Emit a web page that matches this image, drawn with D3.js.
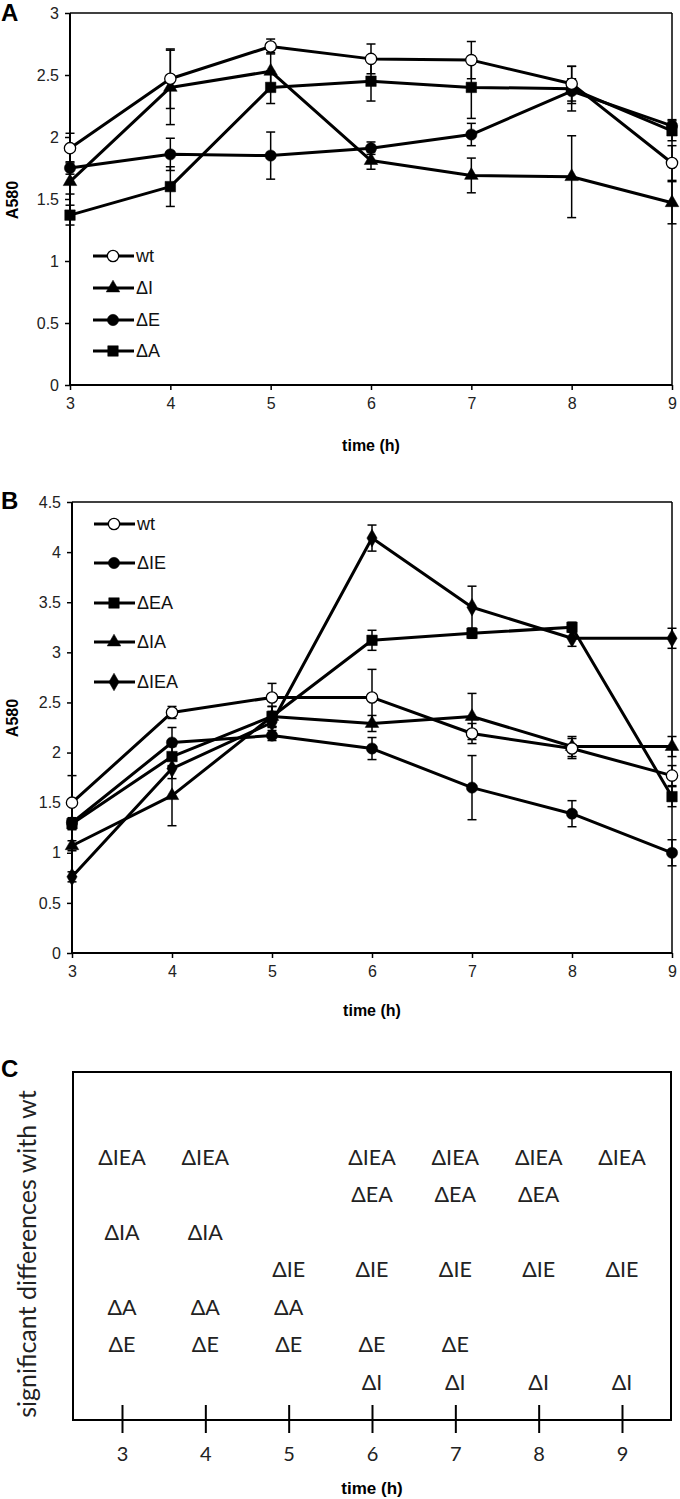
<!DOCTYPE html>
<html><head><meta charset="utf-8">
<script src="https://cdn.jsdelivr.net/npm/d3@7"></script>
<style>
body{margin:0;background:#fff;}
svg{display:block;}
</style></head>
<body>
<svg id="chart" width="680" height="1499"></svg>
<script>
// ---------- DATA ----------
const hours = [3, 4, 5, 6, 7, 8, 9];

// Panel A
const namesA = ["wt", "ΔI", "ΔE", "ΔA"];
const symbolsA = ["openCircle", "triangle", "circle", "square"];
const wtA  = [1.91, 2.47, 2.73, 2.63, 2.62, 2.43, 1.79];
const dIA  = [1.64, 2.40, 2.53, 1.81, 1.69, 1.68, 1.47];
const dEA  = [1.75, 1.86, 1.85, 1.91, 2.02, 2.37, 2.09];
const dAA  = [1.37, 1.60, 2.40, 2.45, 2.40, 2.39, 2.05];
const wtAerr = [0.12, 0.24, 0.06, 0.12, 0.15, 0.14, 0.14];
const dIAerr = [0.10, 0.30, 0.15, 0.07, 0.14, 0.33, 0.17];
const dEAerr = [0.05, 0.13, 0.19, 0.05, 0.09, 0.10, 0.05];
const dAAerr = [0.08, 0.16, 0.13, 0.16, 0.25, 0.18, 0.08];
const yTicksA = [0, 0.5, 1, 1.5, 2, 2.5, 3];

// Panel B
const namesB = ["wt", "ΔIE", "ΔEA", "ΔIA", "ΔIEA"];
const symbolsB = ["openCircle", "circle", "square", "triangle", "diamond"];
const wtB   = [1.50, 2.40, 2.55, 2.55, 2.19, 2.04, 1.77];
const dIEB  = [1.30, 2.10, 2.17, 2.04, 1.65, 1.39, 1.00];
const dEAB  = [1.29, 1.96, 2.36, 3.12, 3.19, 3.25, 1.56];
const dIAB  = [1.07, 1.57, 2.36, 2.29, 2.36, 2.06, 2.06];
const dIEAB = [0.76, 1.84, 2.30, 4.14, 3.45, 3.14, 3.14];
const wtBerr   = [0.27, 0.06, 0.14, 0.28, 0.10, 0.10, 0.10];
const dIEBerr  = [0.05, 0.15, 0.05, 0.11, 0.32, 0.13, 0.13];
const dEABerr  = [0.05, 0.10, 0.10, 0.10, 0.05, 0.05, 0.10];
const dIABerr  = [0.05, 0.30, 0.10, 0.08, 0.23, 0.10, 0.10];
const dIEABerr = [0.05, 0.10, 0.05, 0.13, 0.21, 0.08, 0.10];
const yTicksB = [0, 0.5, 1, 1.5, 2, 2.5, 3, 3.5, 4, 4.5];

// Panel C
const rowsC = ["ΔIEA", "ΔEA", "ΔIA", "ΔIE", "ΔA", "ΔE", "ΔI"];
const sig3 = ["ΔIEA", "ΔIA", "ΔA", "ΔE"];
const sig4 = ["ΔIEA", "ΔIA", "ΔA", "ΔE"];
const sig5 = ["ΔIE", "ΔA", "ΔE"];
const sig6 = ["ΔIEA", "ΔEA", "ΔIE", "ΔE", "ΔI"];
const sig7 = ["ΔIEA", "ΔEA", "ΔIE", "ΔE", "ΔI"];
const sig8 = ["ΔIEA", "ΔEA", "ΔIE", "ΔI"];
const sig9 = ["ΔIEA", "ΔIE", "ΔI"];

// ---------- DRAWING ----------
const svg = d3.select("#chart");
const ARIAL = "'Liberation Sans', Arial, sans-serif";
const NARROW = "'Liberation Sans Narrow', 'Liberation Sans', Arial, sans-serif";
const CAL = "Lato, 'Open Sans', sans-serif";

function symbolPath(kind) {
  const map = {
    openCircle: [d3.symbolCircle, 100],
    circle: [d3.symbolCircle, 100],
    triangle: [d3.symbolTriangle, 80],
    square: [d3.symbolSquare, 110],
    diamond: [d3.symbolDiamond, 90]
  };
  const m = map[kind];
  return d3.symbol().type(m[0]).size(m[1])();
}
function drawMarker(g, kind, x, y) {
  g.append("path").attr("d", symbolPath(kind))
    .attr("transform", `translate(${x},${y})`)
    .attr("fill", kind === "openCircle" ? "#fff" : "#000")
    .attr("stroke", "#000").attr("stroke-width", kind === "openCircle" ? 1.3 : 0.5);
}

function panel(opts) {
  const {x0, x1, yTop, yBot, yMax, yTicks, series, letter, letterY, legendX, legendY, titleY, a580Y} = opts;
  const x = d3.scaleLinear().domain([3, 9]).range([x0, x1]);
  const y = d3.scaleLinear().domain([0, yMax]).range([yBot, yTop]);
  const g = svg.append("g");

  g.append("line").attr("x1", x0).attr("x2", x1).attr("y1", yTop).attr("y2", yTop)
    .attr("stroke", "#000").attr("stroke-width", 1.5);
  g.append("line").attr("x1", x1).attr("x2", x1).attr("y1", yTop).attr("y2", yBot)
    .attr("stroke", "#000").attr("stroke-width", 1.5);

  const ay = g.append("g").attr("transform", `translate(${x0},0)`)
    .call(d3.axisLeft(y).tickValues(yTicks).tickSize(5).tickPadding(6).tickFormat(d3.format("")));
  const ax = g.append("g").attr("transform", `translate(0,${yBot})`)
    .call(d3.axisBottom(x).tickValues(hours).tickSize(5).tickPadding(8).tickFormat(d3.format("d")));
  [ay, ax].forEach(a => {
    a.select(".domain").attr("stroke-width", 2).attr("stroke", "#000");
    a.selectAll(".tick line").attr("stroke-width", 1.5);
    a.selectAll("text").attr("font-family", ARIAL).attr("font-size", 16).attr("fill", "#222");
  });
  ax.select(".domain").attr("d", `M${x0},0H${x1}`);
  ay.select(".domain").attr("d", `M0,${yBot}V${yTop}`);

  series.forEach(s => {
    s.values.forEach((v, i) => {
      const cx = x(hours[i]);
      const e = s.err[i];
      g.append("line").attr("x1", cx).attr("x2", cx).attr("y1", y(v - e)).attr("y2", y(v + e))
        .attr("stroke", "#000").attr("stroke-width", 1.5);
      [v - e, v + e].forEach(val => {
        g.append("line").attr("x1", cx - 4.5).attr("x2", cx + 4.5).attr("y1", y(val)).attr("y2", y(val))
          .attr("stroke", "#000").attr("stroke-width", 1.5);
      });
    });
  });
  const line = d3.line().x((d, i) => x(hours[i])).y(d => y(d));
  series.forEach(s => {
    g.append("path").datum(s.values).attr("d", line)
      .attr("fill", "none").attr("stroke", "#000").attr("stroke-width", 3).attr("stroke-linejoin", "round");
  });
  const order = series.slice().sort((a, b) => (a.symbol === "openCircle") - (b.symbol === "openCircle"));
  order.forEach(s => s.values.forEach((v, i) => drawMarker(g, s.symbol, x(hours[i]), y(v))));

  series.forEach((s, i) => {
    const ly = legendY[i];
    g.append("line").attr("x1", legendX).attr("x2", legendX + 41).attr("y1", ly).attr("y2", ly)
      .attr("stroke", "#000").attr("stroke-width", 3);
    drawMarker(g, s.symbol, legendX + 20, ly);
    g.append("text").attr("x", legendX + 43).attr("y", ly).attr("dy", "0.36em")
      .attr("font-family", NARROW).attr("font-size", 18).attr("fill", "#111").text(s.name);
  });

  g.append("text").attr("x", (x0 + x1) / 2).attr("y", titleY).attr("dy", "0.35em")
    .attr("text-anchor", "middle").attr("font-family", ARIAL).attr("font-weight", "bold")
    .attr("font-size", 16).text("time (h)");
  g.append("text").attr("transform", `translate(12,${a580Y}) rotate(-90)`).attr("dy", "0.35em")
    .attr("text-anchor", "middle").attr("font-family", ARIAL).attr("font-weight", "bold")
    .attr("font-size", 16).text("A580");
  g.append("text").attr("x", 1).attr("y", letterY).attr("font-family", ARIAL).attr("font-weight", "bold")
    .attr("font-size", 24).text(letter);
}

panel({
  x0: 70, x1: 672, yTop: 13, yBot: 385, yMax: 3, yTicks: yTicksA, letter: "A", letterY: 21,
  legendX: 93, legendY: [256, 288, 320, 351], titleY: 445, a580Y: 200,
  series: [
    {name: namesA[0], symbol: symbolsA[0], values: wtA, err: wtAerr},
    {name: namesA[1], symbol: symbolsA[1], values: dIA, err: dIAerr},
    {name: namesA[2], symbol: symbolsA[2], values: dEA, err: dEAerr},
    {name: namesA[3], symbol: symbolsA[3], values: dAA, err: dAAerr}
  ]
});

panel({
  x0: 72, x1: 672, yTop: 502, yBot: 953, yMax: 4.5, yTicks: yTicksB, letter: "B", letterY: 509,
  legendX: 94, legendY: [524, 563, 603, 642, 682], titleY: 1010, a580Y: 718,
  series: [
    {name: namesB[0], symbol: symbolsB[0], values: wtB, err: wtBerr},
    {name: namesB[1], symbol: symbolsB[1], values: dIEB, err: dIEBerr},
    {name: namesB[2], symbol: symbolsB[2], values: dEAB, err: dEABerr},
    {name: namesB[3], symbol: symbolsB[3], values: dIAB, err: dIABerr},
    {name: namesB[4], symbol: symbolsB[4], values: dIEAB, err: dIEABerr}
  ]
});

// Panel C
(function () {
  const left = 73, right = 671, top = 1072, bottom = 1420;
  const sigs = [sig3, sig4, sig5, sig6, sig7, sig8, sig9];
  const x = d3.scaleLinear().domain([3, 9]).range([122, 622]);
  const y = d3.scalePoint().domain(rowsC).range([1157, 1382]);
  const g = svg.append("g");
  g.append("rect").attr("x", left).attr("y", top).attr("width", right - left).attr("height", bottom - top)
    .attr("fill", "none").attr("stroke", "#000").attr("stroke-width", 2);
  const ax = g.append("g").attr("transform", `translate(0,${bottom})`)
    .call(d3.axisBottom(x).tickValues(hours).tickSize(13).tickPadding(14).tickFormat(d3.format("d")));
  ax.select(".domain").remove();
  ax.selectAll(".tick line").attr("y1", -15).attr("stroke-width", 2);
  ax.selectAll("text").attr("font-family", CAL).attr("font-size", 20).attr("fill", "#222");

  sigs.forEach((list, i) => {
    list.forEach(name => {
      g.append("text").attr("x", x(hours[i])).attr("y", y(name)).attr("dy", "0.36em")
        .attr("text-anchor", "middle").attr("font-family", CAL).attr("font-size", 21.5)
        .attr("fill", "#222").text(name);
    });
  });
  g.append("text").attr("transform", `translate(27,${(top + bottom) / 2 + 8}) rotate(-90)`).attr("dy", "0.35em")
    .attr("text-anchor", "middle").attr("font-family", CAL).attr("font-size", 25).attr("fill", "#222")
    .text("significant differences with wt");
  g.append("text").attr("x", (left + right) / 2).attr("y", 1488).attr("dy", "0.35em")
    .attr("text-anchor", "middle").attr("font-family", NARROW).attr("font-weight", "bold")
    .attr("font-size", 17).text("time (h)");
  g.append("text").attr("x", 1).attr("y", 1077).attr("font-family", ARIAL).attr("font-weight", "bold")
    .attr("font-size", 24).text("C");
})();
</script>
</body></html>
